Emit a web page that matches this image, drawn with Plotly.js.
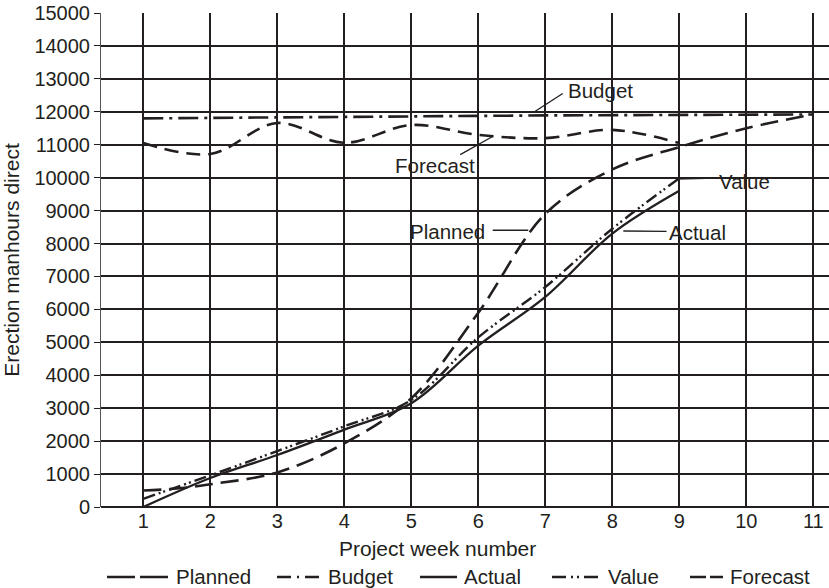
<!DOCTYPE html>
<html>
<head>
<meta charset="utf-8">
<script src="https://cdn.plot.ly/plotly-3.0.1.min.js"></script>
<style>html,body{margin:0;padding:0;background:#fff;}#chart{width:829px;height:588px;}</style>
</head>
<body>
<div id="chart"></div>
<script>
// ---- Data ----
var seriesNames = ["Planned", "Budget", "Actual", "Value", "Forecast"];

var plannedWeeks = [1, 1.5, 2, 3, 4, 5, 6, 7, 8, 9, 10, 11];
var plannedHours = [500, 560, 690, 1050, 1930, 3300, 5900, 8900, 10250, 10930, 11500, 11920];

var budgetWeeks = [1, 3, 5, 7, 9, 11];
var budgetHours = [11800, 11820, 11860, 11890, 11910, 11920];

var actualWeeks = [1, 2, 3, 4, 5, 6, 7, 8, 9];
var actualHours = [0, 880, 1580, 2350, 3150, 4900, 6380, 8300, 9600];

var valueWeeks = [1, 2, 3, 4, 5, 6, 7, 8, 9];
var valueHours = [250, 960, 1700, 2450, 3250, 5150, 6680, 8450, 9980];

var forecastWeeks = [1, 2, 3, 4, 5, 6, 7, 8, 9];
var forecastHours = [11050, 10720, 11660, 11060, 11600, 11300, 11200, 11450, 11050];

var weekTicks = [1, 2, 3, 4, 5, 6, 7, 8, 9, 10, 11];
var hourTicks = [0, 1000, 2000, 3000, 4000, 5000, 6000, 7000, 8000, 9000, 10000, 11000, 12000, 13000, 14000, 15000];

// ---- Styles ----
var ink = "#231f20";
var FONT = "Liberation Sans, Arial, Helvetica, sans-serif";
var styles = {
  Planned:  {dash: "18px,8px", width: 2.6, shape: "spline"},
  Budget:   {dash: "20px,6px,3px,6px", width: 2.6, shape: "linear"},
  Actual:   {dash: "solid", width: 2.3, shape: "spline"},
  Value:    {dash: "12px,4px,2px,3px,2px,4px", width: 2.4, shape: "spline"},
  Forecast: {dash: "14px,8px", width: 2.6, shape: "spline"}
};
var seriesData = {
  Planned: [plannedWeeks, plannedHours],
  Budget: [budgetWeeks, budgetHours],
  Actual: [actualWeeks, actualHours],
  Value: [valueWeeks, valueHours],
  Forecast: [forecastWeeks, forecastHours]
};

var traces = seriesNames.map(function (n) {
  var s = styles[n];
  return {
    type: "scatter", mode: "lines", name: n,
    x: seriesData[n][0], y: seriesData[n][1],
    line: {color: ink, width: s.width, dash: s.dash, shape: s.shape, smoothing: 1},
    showlegend: false, hoverinfo: "x+y+name"
  };
});

// ---- In-plot labels with leader lines (data coordinates) ----
var labels = [
  {text: "Budget",   x: 7.32, y: 12650, xanchor: "left",  lead: [7.26, 12554, 6.85, 12017]},
  {text: "Forecast", x: 4.74, y: 10355, xanchor: "left",  lead: [5.73, 10701, 6.22, 11257]},
  {text: "Value",    x: 9.57, y: 9891,  xanchor: "left",  lead: [9.56, 9985, 8.95, 9955]},
  {text: "Planned",  x: 6.12, y: 8351,  xanchor: "right", lead: [6.215, 8403, 6.746, 8403]},
  {text: "Actual",   x: 8.83, y: 8321,  xanchor: "left",  lead: [8.164, 8381, 8.81, 8372]}
];

var annotations = [];
var shapes = [];
labels.forEach(function (l) {
  annotations.push({text: l.text, x: l.x, y: l.y, xref: "x", yref: "y", xanchor: l.xanchor, yanchor: "middle",
    showarrow: false, font: {family: FONT, size: 20.5, color: ink}, borderpad: 0});
  shapes.push({type: "line", xref: "x", yref: "y", x0: l.lead[0], y0: l.lead[1], x1: l.lead[2], y1: l.lead[3],
    layer: "above", line: {color: ink, width: 1.3}});
});

// x axis title as annotation (placed as in reference)
var plotL = 101, plotR = 829, plotT = 13, plotB = 507;
function px2paperX(px) { return (px - plotL) / (plotR - plotL); }
function px2paperY(py) { return (plotB - py) / (plotB - plotT); }

annotations.push({text: "Project week number", xref: "paper", yref: "paper",
  x: px2paperX(437.5), y: px2paperY(548), xanchor: "center", yanchor: "middle", showarrow: false,
  font: {family: FONT, size: 21, color: ink}});

// ---- Legend (drawn below the axis title) ----
var legendLayout = {
  Planned:  {s0: 107, s1: 172, t: 175, dash: "28px,5px"},
  Budget:   {s0: 277, s1: 320, t: 327, dash: "14px,6px,2px,6px"},
  Actual:   {s0: 420, s1: 457, t: 463, dash: "solid"},
  Value:    {s0: 552, s1: 600, t: 607, dash: "14px,5px,2px,4px,2px,5px"},
  Forecast: {s0: 690, s1: 723, t: 729, dash: "16px,4px"}
};
var legendY = 577;
seriesNames.forEach(function (n) {
  var g = legendLayout[n];
  shapes.push({type: "line", xref: "paper", yref: "paper",
    x0: px2paperX(g.s0), x1: px2paperX(g.s1), y0: px2paperY(legendY), y1: px2paperY(legendY),
    line: {color: ink, width: 2.5, dash: g.dash}});
  annotations.push({text: n, xref: "paper", yref: "paper", x: px2paperX(g.t), y: px2paperY(legendY - 1),
    xanchor: "left", yanchor: "middle", showarrow: false, borderpad: 0,
    font: {family: FONT, size: 20.5, color: ink}});
});

var layout = {
  width: 829, height: 588,
  margin: {l: plotL, r: 829 - plotR, t: plotT, b: 588 - plotB, pad: 0},
  paper_bgcolor: "#ffffff", plot_bgcolor: "#ffffff",
  font: {family: FONT, size: 20, color: ink},
  showlegend: false,
  xaxis: {
    range: [0.369, 11.234], tickmode: "array", tickvals: weekTicks, ticktext: weekTicks.map(String),
    showgrid: true, gridcolor: ink, gridwidth: 2, zeroline: false, showline: false, ticks: "",
    tickfont: {family: FONT, size: 20, color: ink}, fixedrange: true, automargin: false
  },
  yaxis: {
    range: [0, 15000], tickmode: "array", tickvals: hourTicks, ticktext: hourTicks.map(String),
    showgrid: true, gridcolor: ink, gridwidth: 2,
    zeroline: true, zerolinecolor: ink, zerolinewidth: 2,
    showline: true, linecolor: "#555", linewidth: 1,
    ticks: "outside", ticklen: 6, tickwidth: 1, tickcolor: ink,
    tickfont: {family: FONT, size: 20, color: ink},
    title: {text: "Erection manhours direct", font: {family: FONT, size: 21, color: ink}, standoff: 12},
    fixedrange: true, automargin: false
  },
  annotations: annotations,
  shapes: shapes
};

Plotly.newPlot("chart", traces, layout, {displayModeBar: false, staticPlot: true});
</script>
</body>
</html>
